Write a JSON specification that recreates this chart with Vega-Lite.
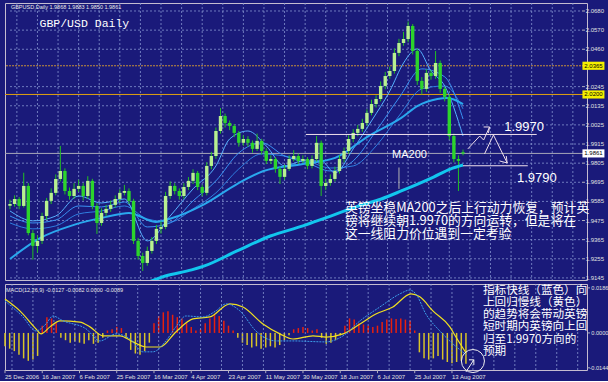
{
"$schema":"https://vega.github.io/schema/vega-lite/v6.json",
"background":"#1a1a7a",
"padding":{"left":2,"top":2,"right":0,"bottom":0},
"spacing":1,
"config":{
 "view":{"stroke":"#c4bcd0","strokeWidth":1}
},
"datasets":{
 "vgrid":[{"i":3},{"i":12},{"i":21},{"i":30},{"i":39},{"i":48},{"i":57},{"i":66},{"i":75},{"i":84},{"i":93},{"i":102},{"i":111},{"i":120},{"i":129},{"i":138},{"i":147},{"i":156},{"i":165},{"i":174},{"i":183},{"i":192},{"i":201},{"i":210},{"i":219},{"i":228},{"i":237},{"i":246}],
 "ylab":[{"p":2.068,"t":"2.0680"},{"p":2.057,"t":"2.0570"},{"p":2.046,"t":"2.0460"},{"p":2.0245,"t":"2.0245"},{"p":2.0135,"t":"2.0135"},{"p":2.0025,"t":"2.0025"},{"p":1.9915,"t":"1.9915"},{"p":1.9805,"t":"1.9805"},{"p":1.9695,"t":"1.9695"},{"p":1.9585,"t":"1.9585"},{"p":1.9475,"t":"1.9475"},{"p":1.9365,"t":"1.9365"},{"p":1.9255,"t":"1.9255"},{"p":1.9145,"t":"1.9145"}],
 "mlab":[{"v":0.0186,"t":"0.0186"},{"v":0,"t":"0.0000"},{"v":-0.0144,"t":"-0.0144"}],
 "xlab":[{"i":0,"t":"25 Dec 2006"},{"i":16,"t":"16 Jan 2007"},{"i":32,"t":"6 Feb 2007"},{"i":48,"t":"25 Feb 2007"},{"i":64,"t":"16 Mar 2007"},{"i":80,"t":"4 Apr 2007"},{"i":96,"t":"23 Apr 2007"},{"i":112,"t":"11 May 2007"},{"i":128,"t":"30 May 2007"},{"i":144,"t":"18 Jun 2007"},{"i":160,"t":"6 Jul 2007"},{"i":176,"t":"25 Jul 2007"},{"i":192,"t":"13 Aug 2007"}],
 "bars":[
{"i":0,"o":1.9560,"h":1.9595,"l":1.9540,"c":1.9570},
{"i":2,"o":1.9570,"h":1.9620,"l":1.9555,"c":1.9599},
{"i":4,"o":1.9599,"h":1.9610,"l":1.9540,"c":1.9559},
{"i":6,"o":1.9559,"h":1.9750,"l":1.9550,"c":1.9674},
{"i":8,"o":1.9674,"h":1.9690,"l":1.9390,"c":1.9403},
{"i":10,"o":1.9403,"h":1.9420,"l":1.9250,"c":1.9329},
{"i":12,"o":1.9329,"h":1.9390,"l":1.9290,"c":1.9358},
{"i":14,"o":1.9358,"h":1.9520,"l":1.9340,"c":1.9501},
{"i":16,"o":1.9501,"h":1.9605,"l":1.9480,"c":1.9588},
{"i":18,"o":1.9588,"h":1.9660,"l":1.9570,"c":1.9634},
{"i":20,"o":1.9634,"h":1.9740,"l":1.9620,"c":1.9714},
{"i":22,"o":1.9714,"h":1.9904,"l":1.9700,"c":1.9760},
{"i":24,"o":1.9760,"h":1.9775,"l":1.9625,"c":1.9645},
{"i":26,"o":1.9645,"h":1.9665,"l":1.9595,"c":1.9616},
{"i":28,"o":1.9616,"h":1.9690,"l":1.9600,"c":1.9657},
{"i":30,"o":1.9657,"h":1.9710,"l":1.9640,"c":1.9674},
{"i":32,"o":1.9674,"h":1.9690,"l":1.9590,"c":1.9616},
{"i":34,"o":1.9616,"h":1.9730,"l":1.9600,"c":1.9703},
{"i":36,"o":1.9703,"h":1.9715,"l":1.9540,"c":1.9559},
{"i":38,"o":1.9559,"h":1.9575,"l":1.9398,"c":1.9461},
{"i":40,"o":1.9461,"h":1.9545,"l":1.9445,"c":1.9519},
{"i":42,"o":1.9519,"h":1.9565,"l":1.9500,"c":1.9542},
{"i":44,"o":1.9542,"h":1.9590,"l":1.9525,"c":1.9565},
{"i":46,"o":1.9565,"h":1.9620,"l":1.9550,"c":1.9599},
{"i":48,"o":1.9599,"h":1.9655,"l":1.9580,"c":1.9634},
{"i":50,"o":1.9634,"h":1.9680,"l":1.9620,"c":1.9645},
{"i":52,"o":1.9645,"h":1.9660,"l":1.9570,"c":1.9588},
{"i":54,"o":1.9588,"h":1.9600,"l":1.9340,"c":1.9358},
{"i":56,"o":1.9358,"h":1.9375,"l":1.9250,"c":1.9271},
{"i":58,"o":1.9271,"h":1.9290,"l":1.9185,"c":1.9231},
{"i":60,"o":1.9231,"h":1.9325,"l":1.9215,"c":1.9300},
{"i":62,"o":1.9300,"h":1.9380,"l":1.9285,"c":1.9358},
{"i":64,"o":1.9358,"h":1.9450,"l":1.9340,"c":1.9427},
{"i":66,"o":1.9427,"h":1.9470,"l":1.9400,"c":1.9438},
{"i":68,"o":1.9438,"h":1.9640,"l":1.9425,"c":1.9616},
{"i":70,"o":1.9616,"h":1.9700,"l":1.9600,"c":1.9674},
{"i":72,"o":1.9674,"h":1.9690,"l":1.9625,"c":1.9645},
{"i":74,"o":1.9645,"h":1.9660,"l":1.9595,"c":1.9616},
{"i":76,"o":1.9616,"h":1.9690,"l":1.9600,"c":1.9668},
{"i":78,"o":1.9668,"h":1.9725,"l":1.9650,"c":1.9703},
{"i":80,"o":1.9703,"h":1.9770,"l":1.9685,"c":1.9749},
{"i":82,"o":1.9749,"h":1.9760,"l":1.9650,"c":1.9668},
{"i":84,"o":1.9668,"h":1.9680,"l":1.9615,"c":1.9634},
{"i":86,"o":1.9634,"h":1.9810,"l":1.9620,"c":1.9789},
{"i":88,"o":1.9789,"h":1.9870,"l":1.9770,"c":1.9846},
{"i":90,"o":1.9846,"h":2.0010,"l":1.9830,"c":1.9990},
{"i":92,"o":1.9990,"h":2.0122,"l":1.9975,"c":2.0076},
{"i":94,"o":2.0076,"h":2.0090,"l":2.0010,"c":2.0036},
{"i":96,"o":2.0036,"h":2.0050,"l":1.9995,"c":2.0019},
{"i":98,"o":2.0019,"h":2.0030,"l":1.9955,"c":1.9979},
{"i":100,"o":1.9979,"h":1.9990,"l":1.9900,"c":1.9922},
{"i":102,"o":1.9922,"h":1.9965,"l":1.9905,"c":1.9944},
{"i":104,"o":1.9944,"h":1.9960,"l":1.9900,"c":1.9922},
{"i":106,"o":1.9922,"h":1.9935,"l":1.9865,"c":1.9887},
{"i":108,"o":1.9887,"h":1.9975,"l":1.9875,"c":1.9933},
{"i":110,"o":1.9933,"h":1.9945,"l":1.9855,"c":1.9875},
{"i":112,"o":1.9875,"h":1.9890,"l":1.9800,"c":1.9818},
{"i":114,"o":1.9818,"h":1.9850,"l":1.9800,"c":1.9829},
{"i":116,"o":1.9829,"h":1.9840,"l":1.9750,"c":1.9772},
{"i":118,"o":1.9772,"h":1.9785,"l":1.9685,"c":1.9726},
{"i":120,"o":1.9726,"h":1.9795,"l":1.9710,"c":1.9772},
{"i":122,"o":1.9772,"h":1.9850,"l":1.9760,"c":1.9829},
{"i":124,"o":1.9829,"h":1.9880,"l":1.9815,"c":1.9846},
{"i":126,"o":1.9846,"h":1.9860,"l":1.9800,"c":1.9818},
{"i":128,"o":1.9818,"h":1.9850,"l":1.9805,"c":1.9829},
{"i":130,"o":1.9829,"h":1.9840,"l":1.9770,"c":1.9789},
{"i":132,"o":1.9789,"h":1.9850,"l":1.9775,"c":1.9829},
{"i":134,"o":1.9829,"h":1.9961,"l":1.9815,"c":1.9922},
{"i":136,"o":1.9922,"h":1.9935,"l":1.9616,"c":1.9674},
{"i":138,"o":1.9674,"h":1.9715,"l":1.9650,"c":1.9691},
{"i":140,"o":1.9691,"h":1.9740,"l":1.9675,"c":1.9714},
{"i":142,"o":1.9714,"h":1.9785,"l":1.9700,"c":1.9760},
{"i":144,"o":1.9760,"h":1.9850,"l":1.9745,"c":1.9829},
{"i":146,"o":1.9829,"h":1.9895,"l":1.9810,"c":1.9875},
{"i":148,"o":1.9875,"h":1.9965,"l":1.9860,"c":1.9944},
{"i":150,"o":1.9944,"h":2.0000,"l":1.9925,"c":1.9979},
{"i":152,"o":1.9979,"h":2.0025,"l":1.9960,"c":2.0002},
{"i":154,"o":2.0002,"h":2.0060,"l":1.9985,"c":2.0036},
{"i":156,"o":2.0036,"h":2.0115,"l":2.0020,"c":2.0094},
{"i":158,"o":2.0094,"h":2.0170,"l":2.0080,"c":2.0145},
{"i":160,"o":2.0145,"h":2.0195,"l":2.0125,"c":2.0174},
{"i":162,"o":2.0174,"h":2.0275,"l":2.0160,"c":2.0249},
{"i":164,"o":2.0249,"h":2.0330,"l":2.0230,"c":2.0306},
{"i":166,"o":2.0306,"h":2.0360,"l":2.0290,"c":2.0335},
{"i":168,"o":2.0335,"h":2.0465,"l":2.0320,"c":2.0439},
{"i":170,"o":2.0439,"h":2.0520,"l":2.0420,"c":2.0496},
{"i":172,"o":2.0496,"h":2.0560,"l":2.0480,"c":2.0519},
{"i":174,"o":2.0519,"h":2.0620,"l":2.0500,"c":2.0594},
{"i":176,"o":2.0594,"h":2.0605,"l":2.0430,"c":2.0450},
{"i":178,"o":2.0450,"h":2.0465,"l":2.0255,"c":2.0278},
{"i":180,"o":2.0278,"h":2.0300,"l":2.0200,"c":2.0232},
{"i":182,"o":2.0232,"h":2.0345,"l":2.0215,"c":2.0324},
{"i":184,"o":2.0324,"h":2.0340,"l":2.0285,"c":2.0306},
{"i":186,"o":2.0306,"h":2.0450,"l":2.0290,"c":2.0381},
{"i":188,"o":2.0381,"h":2.0395,"l":2.0210,"c":2.0232},
{"i":190,"o":2.0232,"h":2.0245,"l":2.0160,"c":2.0186},
{"i":192,"o":2.0186,"h":2.0200,"l":1.9940,"c":1.9961},
{"i":194,"o":1.9961,"h":1.9975,"l":1.9810,"c":1.9829},
{"i":196,"o":1.9829,"h":1.9850,"l":1.9645,"c":1.9818},
{"i":198,"o":1.9868,"h":1.9883,"l":1.9850,"c":1.9861}
 ],
 "ma":[
{"s":"MA200","i":60,"p":1.9118},{"s":"MA200","i":67.9,"p":1.9156},{"s":"MA200","i":79.4,"p":1.9191},{"s":"MA200","i":85,"p":1.9214},{"s":"MA200","i":99.2,"p":1.9300},{"s":"MA200","i":113.8,"p":1.9386},{"s":"MA200","i":128,"p":1.9444},{"s":"MA200","i":137.9,"p":1.9490},{"s":"MA200","i":152.5,"p":1.9559},{"s":"MA200","i":162.3,"p":1.9599},{"s":"MA200","i":171,"p":1.9645},{"s":"MA200","i":185.1,"p":1.9725},{"s":"MA200","i":192.4,"p":1.9771},{"s":"MA200","i":198,"p":1.9794},
{"s":"MA50","i":0,"p":1.9254},{"s":"MA50","i":13.3,"p":1.9375},{"s":"MA50","i":27.9,"p":1.9450},{"s":"MA50","i":42.1,"p":1.9496},{"s":"MA50","i":52,"p":1.9519},{"s":"MA50","i":63.6,"p":1.9467},{"s":"MA50","i":70.9,"p":1.9490},{"s":"MA50","i":85,"p":1.9570},{"s":"MA50","i":99.2,"p":1.9685},{"s":"MA50","i":110.8,"p":1.9760},{"s":"MA50","i":128,"p":1.9800},{"s":"MA50","i":142.1,"p":1.9835},{"s":"MA50","i":156.7,"p":1.9961},{"s":"MA50","i":171,"p":2.0065},{"s":"MA50","i":178.2,"p":2.0134},{"s":"MA50","i":186.8,"p":2.0174},{"s":"MA50","i":191.1,"p":2.0180},{"s":"MA50","i":198,"p":2.0145},
{"s":"MA10","i":0,"p":1.9530},{"s":"MA10","i":10,"p":1.9473},{"s":"MA10","i":20,"p":1.9501},{"s":"MA10","i":30,"p":1.9616},{"s":"MA10","i":40,"p":1.9576},{"s":"MA10","i":50,"p":1.9599},{"s":"MA10","i":60,"p":1.9358},{"s":"MA10","i":70,"p":1.9501},{"s":"MA10","i":80,"p":1.9657},{"s":"MA10","i":90,"p":1.9789},{"s":"MA10","i":96,"p":1.9944},{"s":"MA10","i":104,"p":1.9990},{"s":"MA10","i":112,"p":1.9904},{"s":"MA10","i":120,"p":1.9789},{"s":"MA10","i":128,"p":1.9818},{"s":"MA10","i":136,"p":1.9818},{"s":"MA10","i":142,"p":1.9749},{"s":"MA10","i":150,"p":1.9887},{"s":"MA10","i":158,"p":2.0048},{"s":"MA10","i":166,"p":2.0220},{"s":"MA10","i":172,"p":2.0381},{"s":"MA10","i":178,"p":2.0462},{"s":"MA10","i":184,"p":2.0335},{"s":"MA10","i":190,"p":2.0249},{"s":"MA10","i":198,"p":1.9961},
{"s":"MA20","i":0,"p":1.9501},{"s":"MA20","i":10,"p":1.9461},{"s":"MA20","i":20,"p":1.9478},{"s":"MA20","i":30,"p":1.9559},{"s":"MA20","i":40,"p":1.9553},{"s":"MA20","i":50,"p":1.9582},{"s":"MA20","i":60,"p":1.9438},{"s":"MA20","i":70,"p":1.9461},{"s":"MA20","i":80,"p":1.9588},{"s":"MA20","i":90,"p":1.9703},{"s":"MA20","i":100,"p":1.9864},{"s":"MA20","i":110,"p":1.9922},{"s":"MA20","i":120,"p":1.9846},{"s":"MA20","i":130,"p":1.9806},{"s":"MA20","i":140,"p":1.9760},{"s":"MA20","i":150,"p":1.9818},{"s":"MA20","i":160,"p":1.9990},{"s":"MA20","i":170,"p":2.0180},{"s":"MA20","i":180,"p":2.0347},{"s":"MA20","i":190,"p":2.0301},{"s":"MA20","i":198,"p":2.0059},
{"s":"MA30","i":0,"p":1.9461},{"s":"MA30","i":10,"p":1.9427},{"s":"MA30","i":20,"p":1.9444},{"s":"MA30","i":30,"p":1.9513},{"s":"MA30","i":40,"p":1.9530},{"s":"MA30","i":50,"p":1.9559},{"s":"MA30","i":60,"p":1.9484},{"s":"MA30","i":70,"p":1.9467},{"s":"MA30","i":80,"p":1.9542},{"s":"MA30","i":90,"p":1.9634},{"s":"MA30","i":100,"p":1.9772},{"s":"MA30","i":110,"p":1.9858},{"s":"MA30","i":120,"p":1.9846},{"s":"MA30","i":130,"p":1.9818},{"s":"MA30","i":140,"p":1.9777},{"s":"MA30","i":150,"p":1.9789},{"s":"MA30","i":160,"p":1.9904},{"s":"MA30","i":170,"p":2.0076},{"s":"MA30","i":180,"p":2.0232},{"s":"MA30","i":190,"p":2.0249},{"s":"MA30","i":198,"p":2.0117}
 ],
 "ann":[
{"s":"r1","k":1,"i":129.3,"p":1.9970},{"s":"r1","k":2,"i":230.2,"p":1.9970},
{"s":"r2","k":1,"i":198,"p":1.9790},{"s":"r2","k":2,"i":226.3,"p":1.9790},
{"s":"ma","k":1,"i":170,"p":1.9780},{"s":"ma","k":2,"i":170,"p":1.9657},
{"s":"z1","k":1,"i":200.1,"p":1.9887},{"s":"z1","k":2,"i":205.3,"p":1.9961},{"s":"z1","k":3,"i":207.0,"p":1.9938},{"s":"z1","k":4,"i":209.6,"p":2.0013},
{"s":"h1","k":1,"i":207.0,"p":2.0013},{"s":"h1","k":2,"i":209.6,"p":2.0013},{"s":"h1","k":3,"i":209.1,"p":1.9979},
{"s":"z2","k":1,"i":207.4,"p":1.9858},{"s":"z2","k":2,"i":211.3,"p":1.9967},{"s":"z2","k":3,"i":217.3,"p":1.9806},
{"s":"h2","k":1,"i":213.9,"p":1.9818},{"s":"h2","k":2,"i":217.3,"p":1.9806},{"s":"h2","k":3,"i":216.9,"p":1.9846}
 ],
 "tmain":[
{"k":"hdr","i":0.4,"p":2.0703,"t":"GBPUSD,Daily 1.9868 1.9883 1.9850 1.9861"},
{"k":"title","i":12.9,"p":2.0606,"t":"GBP/USD Daily"},
{"k":"cn","i":146.4,"p":1.9584,"t":"英镑坐稳MA200之后上行动力恢复，预计英\n镑将继续朝1.9970的方向运转，但是将在\n这一线阻力价位遇到一定考验"},
{"k":"num","i":216,"p":2.0013,"t":"1.9970"},
{"k":"num","i":221.6,"p":1.9720,"t":"1.9790"},
{"k":"ma","i":167,"p":1.9852,"t":"MA200"}
 ],
 "boxes":[{"p":2.0365,"t":"2.0365","k":"y"},{"p":2.0200,"t":"2.0200","k":"y"},{"p":1.9861,"t":"1.9861","k":"w"}],
 "mh":[
{"i":0,"v":-0.0055},{"i":2,"v":-0.0065},{"i":4,"v":-0.0075},{"i":6,"v":-0.009},{"i":8,"v":-0.0105},{"i":10,"v":-0.0115},{"i":12,"v":-0.011},{"i":14,"v":-0.0095},{"i":16,"v":0.003},{"i":18,"v":0.0065},{"i":20,"v":0.006},{"i":22,"v":0.004},{"i":24,"v":-0.002},{"i":26,"v":-0.003},{"i":28,"v":-0.004},{"i":30,"v":-0.0035},{"i":32,"v":-0.004},{"i":34,"v":-0.0045},{"i":36,"v":-0.003},{"i":38,"v":-0.0045},{"i":40,"v":-0.004},{"i":42,"v":-0.002},{"i":44,"v":0.001},{"i":46,"v":0.0015},{"i":48,"v":0.0025},{"i":50,"v":0.002},{"i":52,"v":-0.002},{"i":54,"v":-0.007},{"i":56,"v":-0.0085},{"i":58,"v":-0.009},{"i":60,"v":-0.0075},{"i":62,"v":-0.004},{"i":64,"v":0.004},{"i":66,"v":0.007},{"i":68,"v":0.0085},{"i":70,"v":0.009},{"i":72,"v":0.0075},{"i":74,"v":0.0065},{"i":76,"v":0.006},{"i":78,"v":0.004},{"i":80,"v":0.0025},{"i":82,"v":0.001},{"i":84,"v":0.0015},{"i":86,"v":0.004},{"i":88,"v":0.006},{"i":90,"v":0.0075},{"i":92,"v":0.007},{"i":94,"v":0.005},{"i":96,"v":0.003},{"i":98,"v":0.001},{"i":100,"v":-0.002},{"i":102,"v":-0.004},{"i":104,"v":-0.005},{"i":106,"v":-0.006},{"i":108,"v":-0.0055},{"i":110,"v":-0.0065},{"i":112,"v":-0.006},{"i":114,"v":-0.0055},{"i":116,"v":-0.006},{"i":118,"v":-0.005},{"i":120,"v":-0.003},{"i":122,"v":-0.001},{"i":124,"v":0.0015},{"i":126,"v":0.002},{"i":128,"v":0.0025},{"i":130,"v":0.002},{"i":132,"v":0.001},{"i":134,"v":0.0015},{"i":136,"v":-0.002},{"i":138,"v":-0.0045},{"i":140,"v":-0.004},{"i":142,"v":-0.003},{"i":144,"v":-0.001},{"i":146,"v":0.003},{"i":148,"v":0.006},{"i":150,"v":0.0055},{"i":152,"v":0.004},{"i":154,"v":0.0035},{"i":156,"v":0.003},{"i":158,"v":0.0025},{"i":160,"v":0.003},{"i":162,"v":0.0045},{"i":164,"v":0.0055},{"i":166,"v":0.006},{"i":168,"v":0.0058},{"i":170,"v":0.006},{"i":172,"v":0.0055},{"i":174,"v":0.005},{"i":176,"v":0.001},{"i":178,"v":-0.008},{"i":180,"v":-0.0105},{"i":182,"v":-0.011},{"i":184,"v":-0.0105},{"i":186,"v":-0.0095},{"i":188,"v":-0.011},{"i":190,"v":-0.012},{"i":192,"v":-0.0125},{"i":194,"v":-0.012},{"i":196,"v":-0.0115},{"i":198,"v":-0.0127}
 ],
 "ml":[
{"s":"sig","i":0,"v":0.0140},{"s":"sig","i":6.4,"v":0.0091},{"s":"sig","i":13.3,"v":0.0017},{"s":"sig","i":15.5,"v":-0.0004},{"s":"sig","i":19.3,"v":0.0025},{"s":"sig","i":23.6,"v":0.0050},{"s":"sig","i":32.2,"v":0.0045},{"s":"sig","i":36.5,"v":0.0025},{"s":"sig","i":42.1,"v":-0.0012},{"s":"sig","i":49.4,"v":-0.0012},{"s":"sig","i":55,"v":-0.0037},{"s":"sig","i":60.6,"v":-0.0058},{"s":"sig","i":66.6,"v":-0.0058},{"s":"sig","i":73.4,"v":0.0004},{"s":"sig","i":80.7,"v":0.0058},{"s":"sig","i":88,"v":0.0066},{"s":"sig","i":96.6,"v":0.0120},{"s":"sig","i":102.2,"v":0.0107},{"s":"sig","i":110.8,"v":0.0037},{"s":"sig","i":118.1,"v":-0.0004},{"s":"sig","i":123.7,"v":-0.0025},{"s":"sig","i":132.3,"v":-0.0012},{"s":"sig","i":137.9,"v":-0.0017},{"s":"sig","i":145.2,"v":-0.0004},{"s":"sig","i":152.5,"v":0.0037},{"s":"sig","i":159.3,"v":0.0078},{"s":"sig","i":166.6,"v":0.0107},{"s":"sig","i":174.4,"v":0.0161},{"s":"sig","i":178.2,"v":0.0149},{"s":"sig","i":183.8,"v":0.0091},{"s":"sig","i":191.1,"v":0.0025},{"s":"sig","i":193.7,"v":-0.0017},{"s":"sig","i":198,"v":-0.0082},
{"s":"macd","i":0,"v":0.0132},{"s":"macd","i":7.7,"v":0.0066},{"s":"macd","i":13.3,"v":0.0008},{"s":"macd","i":17.6,"v":0.0037},{"s":"macd","i":20.6,"v":0.0070},{"s":"macd","i":24.9,"v":0.0050},{"s":"macd","i":34.8,"v":0.0017},{"s":"macd","i":40.8,"v":-0.0033},{"s":"macd","i":47.7,"v":-0.0004},{"s":"macd","i":53.7,"v":-0.0025},{"s":"macd","i":59.3,"v":-0.0078},{"s":"macd","i":63.6,"v":-0.0078},{"s":"macd","i":69.1,"v":-0.0033},{"s":"macd","i":73.4,"v":0.0025},{"s":"macd","i":77.7,"v":0.0070},{"s":"macd","i":85,"v":0.0066},{"s":"macd","i":90.6,"v":0.0091},{"s":"macd","i":94.9,"v":0.0120},{"s":"macd","i":100.9,"v":0.0091},{"s":"macd","i":107.8,"v":0.0008},{"s":"macd","i":116.4,"v":-0.0033},{"s":"macd","i":123.7,"v":-0.0033},{"s":"macd","i":137.9,"v":-0.0037},{"s":"macd","i":145.2,"v":-0.0012},{"s":"macd","i":152.5,"v":0.0050},{"s":"macd","i":161,"v":0.0107},{"s":"macd","i":169.6,"v":0.0161},{"s":"macd","i":173.9,"v":0.0177},{"s":"macd","i":176.5,"v":0.0161},{"s":"macd","i":180.8,"v":0.0078},{"s":"macd","i":186.8,"v":0.0008},{"s":"macd","i":192.4,"v":-0.0045},{"s":"macd","i":198,"v":-0.0089}
 ],
 "tmacd":[
{"k":"hdr","i":0.4,"v":0.0177,"t":"MACD(12,26,9) -0.0127 -0.0082 0.0000 -0.0089"},
{"k":"cn","i":205.3,"v":0.0199,"t":"指标快线（蓝色）向\n上回归慢线（黄色）\n的趋势将会带动英镑\n短时期内英镑向上回\n归至1.9970方向的\n预期"}
 ],
 "circ":[{"i":201,"v":-0.0116}],
 "arr":[{"s":"a","k":1,"i":198,"v":-0.0161},{"s":"a","k":2,"i":201.4,"v":-0.0111},{"s":"h","k":1,"i":199.3,"v":-0.0111},{"s":"h","k":2,"i":201.4,"v":-0.0111},{"s":"h","k":3,"i":201.4,"v":-0.0132}]
},
"vconcat":[
{
 "width":582,"height":277,
 "layer":[
  {"data":{"name":"ylab"},"mark":{"type":"rule","color":"#8494d0","strokeDash":[2,2],"opacity":0.8},
   "encoding":{"x":{"datum":0,"type":"quantitative","scale":{"domain":[0,250],"nice":false,"zero":false},"axis":null},"x2":{"datum":250},
    "y":{"field":"p","type":"quantitative","scale":{"domain":[1.9133,2.0726],"zero":false,"nice":false},"axis":null}}},
  {"data":{"name":"ylab"},"mark":{"type":"rule","color":"#b0b0c0"},
   "encoding":{"x":{"datum":250,"type":"quantitative","scale":{"domain":[0,250]},"axis":null},"x2":{"datum":251.3},
    "y":{"field":"p","type":"quantitative","scale":{"domain":[1.9133,2.0726]},"axis":null}}},
  {"data":{"name":"ylab"},"mark":{"type":"text","align":"left","baseline":"middle","fontSize":6,"color":"#e0e0e0","font":"Liberation Sans"},
   "encoding":{"x":{"datum":251.6,"type":"quantitative","scale":{"domain":[0,250]},"axis":null},
    "y":{"field":"p","type":"quantitative","scale":{"domain":[1.9133,2.0726]},"axis":null},"text":{"field":"t"}}},
  {"data":{"name":"vgrid"},"mark":{"type":"rule","color":"#8494d0","strokeDash":[2,2],"opacity":0.8},
   "encoding":{"x":{"field":"i","type":"quantitative","scale":{"domain":[0,250]},"axis":null}}},
  {"data":{"values":[{"p":2.0365}]},"mark":{"type":"rule","color":"#c8903a","strokeDash":[2,1]},
   "encoding":{"y":{"field":"p","type":"quantitative","scale":{"domain":[1.9133,2.0726]},"axis":null}}},
  {"data":{"values":[{"p":2.0200}]},"mark":{"type":"rule","color":"#e0a010"},
   "encoding":{"y":{"field":"p","type":"quantitative","scale":{"domain":[1.9133,2.0726]},"axis":null}}},
  {"data":{"values":[{"p":1.9861}]},"mark":{"type":"rule","color":"#a8a8b8"},
   "encoding":{"y":{"field":"p","type":"quantitative","scale":{"domain":[1.9133,2.0726]},"axis":null}}},
  {"data":{"name":"ma"},"transform":[{"filter":"datum.s==='MA30'"}],
   "mark":{"type":"line","interpolate":"monotone","clip":true,"strokeWidth":1,"color":"#2f7ee0"},
   "encoding":{"x":{"field":"i","type":"quantitative","scale":{"domain":[0,250]},"axis":null},"y":{"field":"p","type":"quantitative","scale":{"domain":[1.9133,2.0726]},"axis":null}}},
  {"data":{"name":"ma"},"transform":[{"filter":"datum.s==='MA20'"}],
   "mark":{"type":"line","interpolate":"monotone","clip":true,"strokeWidth":1,"color":"#3a92f4"},
   "encoding":{"x":{"field":"i","type":"quantitative","scale":{"domain":[0,250]},"axis":null},"y":{"field":"p","type":"quantitative","scale":{"domain":[1.9133,2.0726]},"axis":null}}},
  {"data":{"name":"ma"},"transform":[{"filter":"datum.s==='MA10'"}],
   "mark":{"type":"line","interpolate":"monotone","clip":true,"strokeWidth":1,"color":"#56b0ff"},
   "encoding":{"x":{"field":"i","type":"quantitative","scale":{"domain":[0,250]},"axis":null},"y":{"field":"p","type":"quantitative","scale":{"domain":[1.9133,2.0726]},"axis":null}}},
  {"data":{"name":"ma"},"transform":[{"filter":"datum.s==='MA50'"}],
   "mark":{"type":"line","interpolate":"monotone","clip":true,"strokeWidth":2,"color":"#2aa8ee"},
   "encoding":{"x":{"field":"i","type":"quantitative","scale":{"domain":[0,250]},"axis":null},"y":{"field":"p","type":"quantitative","scale":{"domain":[1.9133,2.0726]},"axis":null}}},
  {"data":{"name":"bars"},"mark":{"type":"rule","color":"#22c022","strokeWidth":1},
   "encoding":{"x":{"field":"i","type":"quantitative","scale":{"domain":[0,250]},"axis":null},"y":{"field":"l","type":"quantitative","scale":{"domain":[1.9133,2.0726]},"axis":null},"y2":{"field":"h"}}},
  {"data":{"name":"bars"},"mark":{"type":"bar","size":3.4},
   "encoding":{"x":{"field":"i","type":"quantitative","scale":{"domain":[0,250]},"axis":null},
    "y":{"field":"o","type":"quantitative","scale":{"domain":[1.9133,2.0726]},"axis":null},
    "y2":{"field":"c"},
    "color":{"condition":{"test":"datum.c>=datum.o","value":"#b8f090"},"value":"#2cd42c"}}},
  {"data":{"name":"ma"},"transform":[{"filter":"datum.s==='MA200'"}],
   "mark":{"type":"line","interpolate":"monotone","clip":true,"strokeWidth":3,"color":"#12c6ee"},
   "encoding":{"x":{"field":"i","type":"quantitative","scale":{"domain":[0,250]},"axis":null},"y":{"field":"p","type":"quantitative","scale":{"domain":[1.9133,2.0726]},"axis":null}}},
  {"data":{"name":"ann"},"mark":{"type":"line","strokeWidth":1},
   "encoding":{"x":{"field":"i","type":"quantitative","scale":{"domain":[0,250]},"axis":null},
    "y":{"field":"p","type":"quantitative","scale":{"domain":[1.9133,2.0726]},"axis":null},
    "detail":{"field":"s"},"order":{"field":"k"},
    "color":{"condition":{"test":"datum.s==='ma'","value":"#b4b4b4"},"value":"#f0e0ec"}}},
  {"data":{"name":"tmain"},"transform":[{"filter":"datum.k==='hdr'"}],
   "mark":{"type":"text","align":"left","baseline":"middle","fontSize":5.5,"color":"#e8e8e8","font":"Liberation Sans"},
   "encoding":{"x":{"field":"i","type":"quantitative","scale":{"domain":[0,250]},"axis":null},"y":{"field":"p","type":"quantitative","scale":{"domain":[1.9133,2.0726]},"axis":null},"text":{"field":"t"}}},
  {"data":{"name":"tmain"},"transform":[{"filter":"datum.k==='title'"}],
   "mark":{"type":"text","align":"left","baseline":"middle","fontSize":11.5,"color":"#ffffff","font":"Liberation Mono"},
   "encoding":{"x":{"field":"i","type":"quantitative","scale":{"domain":[0,250]},"axis":null},"y":{"field":"p","type":"quantitative","scale":{"domain":[1.9133,2.0726]},"axis":null},"text":{"field":"t"}}},
  {"data":{"name":"tmain"},"transform":[{"filter":"datum.k==='cn'"}],
   "mark":{"type":"text","align":"left","baseline":"top","fontSize":12.8,"lineBreak":"\n","lineHeight":13,"color":"#ffffff","font":"Noto Sans CJK SC"},
   "encoding":{"x":{"field":"i","type":"quantitative","scale":{"domain":[0,250]},"axis":null},"y":{"field":"p","type":"quantitative","scale":{"domain":[1.9133,2.0726]},"axis":null},"text":{"field":"t"}}},
  {"data":{"name":"tmain"},"transform":[{"filter":"datum.k==='num'"}],
   "mark":{"type":"text","align":"left","baseline":"middle","fontSize":13,"color":"#ffffff","font":"Liberation Sans"},
   "encoding":{"x":{"field":"i","type":"quantitative","scale":{"domain":[0,250]},"axis":null},"y":{"field":"p","type":"quantitative","scale":{"domain":[1.9133,2.0726]},"axis":null},"text":{"field":"t"}}},
  {"data":{"name":"tmain"},"transform":[{"filter":"datum.k==='ma'"}],
   "mark":{"type":"text","align":"left","baseline":"middle","fontSize":11,"color":"#ffffff","font":"Liberation Sans"},
   "encoding":{"x":{"field":"i","type":"quantitative","scale":{"domain":[0,250]},"axis":null},"y":{"field":"p","type":"quantitative","scale":{"domain":[1.9133,2.0726]},"axis":null},"text":{"field":"t"}}},
  {"data":{"name":"boxes"},"mark":{"type":"point","shape":"M-1,-0.37H1V0.37H-1Z","filled":true,"size":484,"strokeWidth":0,"opacity":1},
   "encoding":{"x":{"datum":255,"type":"quantitative","scale":{"domain":[0,250]},"axis":null},"y":{"field":"p","type":"quantitative","scale":{"domain":[1.9133,2.0726]},"axis":null},
    "color":{"condition":{"test":"datum.k==='y'","value":"#f4f000"},"value":"#ffffff"}}},
  {"data":{"name":"boxes"},"mark":{"type":"text","align":"left","baseline":"middle","fontSize":6,"color":"#000000","font":"Liberation Sans"},
   "encoding":{"x":{"datum":251,"type":"quantitative","scale":{"domain":[0,250]},"axis":null},"y":{"field":"p","type":"quantitative","scale":{"domain":[1.9133,2.0726]},"axis":null},"text":{"field":"t"}}}
 ]
},
{
 "width":582,"height":86,
 "layer":[
  {"data":{"name":"mh"},"mark":{"type":"rule","strokeWidth":1.5},
   "encoding":{
    "x":{"field":"i","type":"quantitative","scale":{"domain":[0,250],"nice":false,"zero":false},"axis":null},
    "y":{"field":"v","type":"quantitative","scale":{"domain":[-0.0153,0.0202],"nice":false,"zero":false},"axis":null},
    "y2":{"datum":0},
    "color":{"condition":{"test":"datum.v>0","value":"#e8200c"},"value":"#d8c428"}}},
  {"data":{"name":"vgrid"},"mark":{"type":"rule","color":"#8494d0","strokeDash":[2,2],"opacity":0.8},
   "encoding":{"x":{"field":"i","type":"quantitative","scale":{"domain":[0,250]},"axis":null}}},
  {"data":{"name":"ml"},"transform":[{"filter":"datum.s==='sig'"}],
   "mark":{"type":"line","interpolate":"monotone","strokeWidth":1.2,"color":"#f0e020"},
   "encoding":{"x":{"field":"i","type":"quantitative","scale":{"domain":[0,250]},"axis":null},"y":{"field":"v","type":"quantitative","scale":{"domain":[-0.0153,0.0202]},"axis":null}}},
  {"data":{"name":"ml"},"transform":[{"filter":"datum.s==='macd'"}],
   "mark":{"type":"line","interpolate":"monotone","strokeWidth":1,"strokeDash":[2,1],"color":"#3c9ce8"},
   "encoding":{"x":{"field":"i","type":"quantitative","scale":{"domain":[0,250]},"axis":null},"y":{"field":"v","type":"quantitative","scale":{"domain":[-0.0153,0.0202]},"axis":null}}},
  {"data":{"name":"mlab"},"mark":{"type":"rule","color":"#b0b0c0"},
   "encoding":{"x":{"datum":250,"type":"quantitative","scale":{"domain":[0,250]},"axis":null},"x2":{"datum":251.3},
    "y":{"field":"v","type":"quantitative","scale":{"domain":[-0.0153,0.0202]},"axis":null}}},
  {"data":{"name":"mlab"},"mark":{"type":"text","align":"right","baseline":"middle","fontSize":5.6,"color":"#e0e0e0","font":"Liberation Sans"},
   "encoding":{"x":{"datum":259.2,"type":"quantitative","scale":{"domain":[0,250]},"axis":null},
    "y":{"field":"v","type":"quantitative","scale":{"domain":[-0.0153,0.0202]},"axis":null},"text":{"field":"t"}}},
  {"data":{"name":"xlab"},"mark":{"type":"rule","color":"#b0b0c0"},
   "encoding":{"x":{"field":"i","type":"quantitative","scale":{"domain":[0,250]},"axis":null},
    "y":{"datum":-0.0153,"type":"quantitative","scale":{"domain":[-0.0153,0.0202]},"axis":null},"y2":{"datum":-0.0166}}},
  {"data":{"name":"xlab"},"mark":{"type":"text","align":"left","baseline":"middle","fontSize":6,"color":"#e0e0e0","font":"Liberation Sans"},
   "encoding":{"x":{"field":"i","type":"quantitative","scale":{"domain":[0,250]},"axis":null},
    "y":{"datum":-0.0182,"type":"quantitative","scale":{"domain":[-0.0153,0.0202]},"axis":null},"text":{"field":"t"}}},
  {"data":{"name":"tmacd"},"transform":[{"filter":"datum.k==='hdr'"}],
   "mark":{"type":"text","align":"left","baseline":"middle","fontSize":5.5,"color":"#e8e8e8","font":"Liberation Sans"},
   "encoding":{"x":{"field":"i","type":"quantitative","scale":{"domain":[0,250]},"axis":null},"y":{"field":"v","type":"quantitative","scale":{"domain":[-0.0153,0.0202]},"axis":null},"text":{"field":"t"}}},
  {"data":{"name":"tmacd"},"transform":[{"filter":"datum.k==='cn'"}],
   "mark":{"type":"text","align":"left","baseline":"top","fontSize":11.6,"lineBreak":"\n","lineHeight":12.2,"color":"#ffffff","font":"Noto Sans CJK SC"},
   "encoding":{"x":{"field":"i","type":"quantitative","scale":{"domain":[0,250]},"axis":null},"y":{"field":"v","type":"quantitative","scale":{"domain":[-0.0153,0.0202]},"axis":null},"text":{"field":"t"}}},
  {"data":{"name":"circ"},"mark":{"type":"point","shape":"circle","size":530,"filled":false,"color":"#f0f0f0","strokeWidth":1,"opacity":1},
   "encoding":{"x":{"field":"i","type":"quantitative","scale":{"domain":[0,250]},"axis":null},"y":{"field":"v","type":"quantitative","scale":{"domain":[-0.0153,0.0202]},"axis":null}}},
  {"data":{"name":"arr"},"mark":{"type":"line","strokeWidth":1,"color":"#f0f0f0"},
   "encoding":{"x":{"field":"i","type":"quantitative","scale":{"domain":[0,250]},"axis":null},"y":{"field":"v","type":"quantitative","scale":{"domain":[-0.0153,0.0202]},"axis":null},"detail":{"field":"s"},"order":{"field":"k"}}}
 ]
}
]
}
